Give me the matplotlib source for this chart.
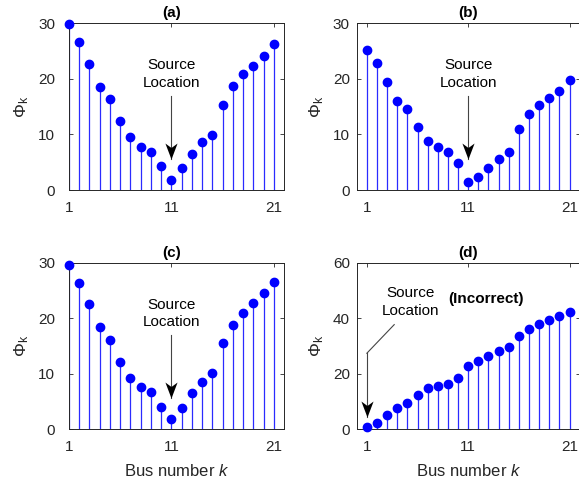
import numpy as np
import matplotlib
matplotlib.use('Agg')
import matplotlib.pyplot as plt
from matplotlib.path import Path
import matplotlib.transforms as mtransforms

plt.rcParams['font.family'] = ['Liberation Sans', 'DejaVu Sans']
plt.rcParams['mathtext.fontset'] = 'custom'
plt.rcParams['mathtext.rm'] = 'Liberation Sans'
plt.rcParams['mathtext.it'] = 'Liberation Sans:italic'

bus = np.arange(1, 22)

phi_a = [29.8, 26.7, 22.6, 18.6, 16.3, 12.5, 9.5, 7.8, 6.9, 4.4, 1.8,
         3.9, 6.4, 8.6, 9.9, 15.3, 18.8, 20.8, 22.4, 24.1, 26.3]
phi_b = [25.2, 22.8, 19.5, 16.1, 14.5, 11.3, 8.9, 7.7, 6.9, 4.9, 1.5,
         2.3, 4.0, 5.5, 6.8, 11.0, 13.6, 15.3, 16.5, 17.9, 19.8]
phi_c = [29.6, 26.4, 22.5, 18.4, 16.1, 12.2, 9.3, 7.7, 6.8, 4.1, 1.8,
         3.9, 6.5, 8.6, 10.2, 15.5, 18.8, 20.9, 22.7, 24.5, 26.6]
phi_d = [1.0, 2.3, 5.1, 7.6, 9.4, 12.3, 14.7, 15.7, 16.4, 18.6, 22.7,
         24.7, 26.5, 28.2, 29.5, 33.7, 36.1, 37.8, 39.4, 40.7, 42.3]

titles = ['(a)', '(b)', '(c)', '(d)']
series = [phi_a, phi_b, phi_c, phi_d]
xlims = [(1, 22), (0, 22), (1, 22), (0, 22)]
ylims = [(0, 30), (0, 30), (0, 30), (0, 60)]
yticks = [[0, 10, 20, 30]] * 3 + [[0, 20, 40, 60]]
ypads = [10, 5, 10, 5]

positions = [
    [0.1192, 0.6074, 0.3713, 0.3445],
    [0.6161, 0.6074, 0.3850, 0.3445],
    [0.1192, 0.1130, 0.3713, 0.3442],
    [0.6161, 0.1130, 0.3850, 0.3442],
]

dark = '#262626'
fig = plt.figure(figsize=(5.79, 4.84), dpi=100)

# concave arrow head (tip at origin, pointing down)
head = Path([(0, 0), (-0.38, 1), (0, 0.72), (0.38, 1), (0, 0)],
            [Path.MOVETO, Path.LINETO, Path.LINETO, Path.LINETO, Path.CLOSEPOLY])


def down_arrow(ax, x, y0, y1):
    ax.plot([x, x], [y0, y1], color='#444444', lw=0.8, zorder=4)
    ax.plot([x], [y1], marker=head, markersize=23, color='black',
            markeredgewidth=0, zorder=5)


axes = []
for i in range(4):
    ax = fig.add_axes(positions[i])
    m, s, b = ax.stem(bus, series[i], basefmt=' ')
    plt.setp(s, color='#2b2bff', linewidth=0.9)
    plt.setp(m, color='blue', markersize=6, markeredgecolor='blue',
             clip_on=False, zorder=3)
    ax.set_xlim(*xlims[i])
    ax.set_ylim(*ylims[i])
    ax.set_xticks([1, 11, 21])
    ax.set_yticks(yticks[i])
    ax.tick_params(direction='in', top=True, right=True, length=3,
                   width=0.6, colors=dark, labelsize=11)
    ax.tick_params(axis='x', pad=8)
    ax.tick_params(axis='y', pad=ypads[i])
    for sp in ax.spines.values():
        sp.set_color(dark)
        sp.set_linewidth(0.7)
    ax.set_ylabel(r'$\Phi_{\mathrm{k}}$', fontsize=12.5, color=dark, labelpad=5)
    trans = mtransforms.blended_transform_factory(ax.transData, ax.transAxes)
    ax.text(11, 1.06, titles[i], transform=trans, ha='center', va='center',
            fontsize=11, fontweight='bold', color='black')
    axes.append(ax)

for ax in axes[2:]:
    ax.set_xlabel('Bus number $k$', fontsize=12, color=dark, labelpad=6)

# source location labels in (a)-(c)
for ax in axes[:3]:
    ax.text(11, 20.85, 'Source\nLocation', ha='center', va='center',
            fontsize=11, linespacing=1.35, color='black')
    down_arrow(ax, 11, 17.0, 5.6)

# (d)
ax = axes[3]
ax.text(5.3, 45.8, 'Source\nLocation', ha='center', va='center',
        fontsize=11, linespacing=1.35, color='black')
ax.text(12.8, 46.9, '(Incorrect)', ha='center', va='center',
        fontsize=11, fontweight='bold', color='black')
ax.plot([3.7, 1], [37.7, 27.4], color='#444444', lw=0.8)
down_arrow(ax, 1, 27.4, 4.5)

fig.savefig('out.png', dpi=100)
